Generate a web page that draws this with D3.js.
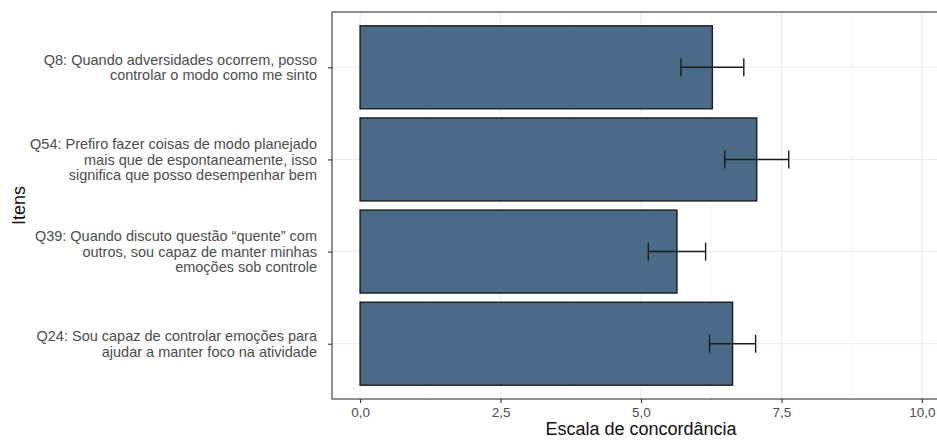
<!DOCTYPE html>
<html><head><meta charset="utf-8">
<script src="https://cdn.jsdelivr.net/npm/d3@7"></script>
<style>body{margin:0;background:#fff}svg{display:block}text{font-family:"Liberation Sans",Arial,sans-serif}</style>
</head><body>
<svg id="c" width="937" height="440"></svg>
<script>
const categories = [
  ["Q8: Quando adversidades ocorrem, posso", "controlar o modo como me sinto"],
  ["Q54: Prefiro fazer coisas de modo planejado", "mais que de espontaneamente, isso", "significa que posso desempenhar bem"],
  ["Q39: Quando discuto questão “quente” com", "outros, sou capaz de manter minhas", "emoções sob controle"],
  ["Q24: Sou capaz de controlar emoções para", "ajudar a manter foco na atividade"]
];
const means = [6.27, 7.06, 5.64, 6.63];
const errors = [0.56, 0.57, 0.51, 0.41];
const xTicks = [0, 2.5, 5, 7.5, 10];
const xMinor = [1.25, 3.75, 6.25, 8.75];

const svg = d3.select("#c");
const L = 332, R = 950, T = 12, B = 399;
const x = d3.scaleLinear().domain([-0.5, 10.5]).range([L, R]);
const ids = categories.map((d, i) => i);
const y = d3.scaleBand().domain(ids).range([T, B]).paddingInner(0.1).paddingOuter(0.15);
const yc = i => y(i) + y.bandwidth() / 2;

const g = svg.append("g");
g.selectAll(".minor").data(xMinor).join("line")
  .attr("x1", d => x(d)).attr("x2", d => x(d)).attr("y1", T).attr("y2", B)
  .attr("stroke", "#f4f4f4").attr("stroke-width", 0.6);
g.selectAll(".major").data(xTicks).join("line")
  .attr("x1", d => x(d)).attr("x2", d => x(d)).attr("y1", T).attr("y2", B)
  .attr("stroke", "#ebebeb").attr("stroke-width", 1.1);
g.selectAll(".hmajor").data(ids).join("line")
  .attr("x1", L).attr("x2", R).attr("y1", d => yc(d)).attr("y2", d => yc(d))
  .attr("stroke", "#ebebeb").attr("stroke-width", 1.1);

g.selectAll(".bar").data(ids).join("rect")
  .attr("x", x(0)).attr("y", d => y(d))
  .attr("width", d => x(means[d]) - x(0)).attr("height", y.bandwidth())
  .attr("fill", "#4a6b88").attr("stroke", "#1a1a1a").attr("stroke-width", 1.4);

const capH = 9;
const eb = g.selectAll(".eb").data(ids).join("g").attr("stroke", "#1a1a1a").attr("stroke-width", 1.4);
eb.append("line").attr("x1", d => x(means[d] - errors[d])).attr("x2", d => x(means[d] + errors[d]))
  .attr("y1", d => yc(d)).attr("y2", d => yc(d));
eb.append("line").attr("x1", d => x(means[d] - errors[d])).attr("x2", d => x(means[d] - errors[d]))
  .attr("y1", d => yc(d) - capH).attr("y2", d => yc(d) + capH);
eb.append("line").attr("x1", d => x(means[d] + errors[d])).attr("x2", d => x(means[d] + errors[d]))
  .attr("y1", d => yc(d) - capH).attr("y2", d => yc(d) + capH);

svg.append("rect").attr("x", L).attr("y", T).attr("width", R - L).attr("height", B - T)
  .attr("fill", "none").attr("stroke", "#333333").attr("stroke-width", 1.1);

const xa = svg.append("g").attr("transform", `translate(0,${B})`)
  .call(d3.axisBottom(x).tickValues(xTicks).tickSize(4).tickPadding(4)
    .tickFormat(d => d3.format(".1f")(d).replace(".", ",")));
xa.select(".domain").remove();
xa.selectAll("line").attr("stroke", "#333333").attr("stroke-width", 1.1);
xa.selectAll("text").attr("fill", "#4d4d4d").style("font-size", "13.5px").style("font-family", "Liberation Sans, Arial, sans-serif");

const ya = svg.append("g").attr("transform", `translate(${L},0)`)
  .call(d3.axisLeft(d3.scalePoint().domain(ids).range([yc(0), yc(3)])).tickSize(4).tickFormat(""));
ya.select(".domain").remove();
ya.selectAll("line").attr("stroke", "#333333").attr("stroke-width", 1.1);

const lh = 15.7;
const lab = svg.append("g").selectAll("text").data(ids).join("text")
  .attr("text-anchor", "end").attr("fill", "#4d4d4d").style("font-size", "14.5px")
  .attr("transform", d => `translate(317,${yc(d)})`);
lab.each(function(d) {
  const lines = categories[d];
  const n = lines.length;
  d3.select(this).selectAll("tspan").data(lines).join("tspan")
    .attr("x", 0).attr("y", (l, k) => (k - (n - 1) / 2) * lh).attr("dy", "0.35em").text(l => l);
});

svg.append("text").attr("x", (L + R) / 2).attr("y", 435).attr("text-anchor", "middle")
  .attr("fill", "#111").style("font-size", "18px").text("Escala de concordância");
svg.append("text").attr("transform", `translate(25,${(T + B) / 2}) rotate(-90)`).attr("text-anchor", "middle")
  .attr("fill", "#111").style("font-size", "18px").text("Itens");
</script>
</body></html>
